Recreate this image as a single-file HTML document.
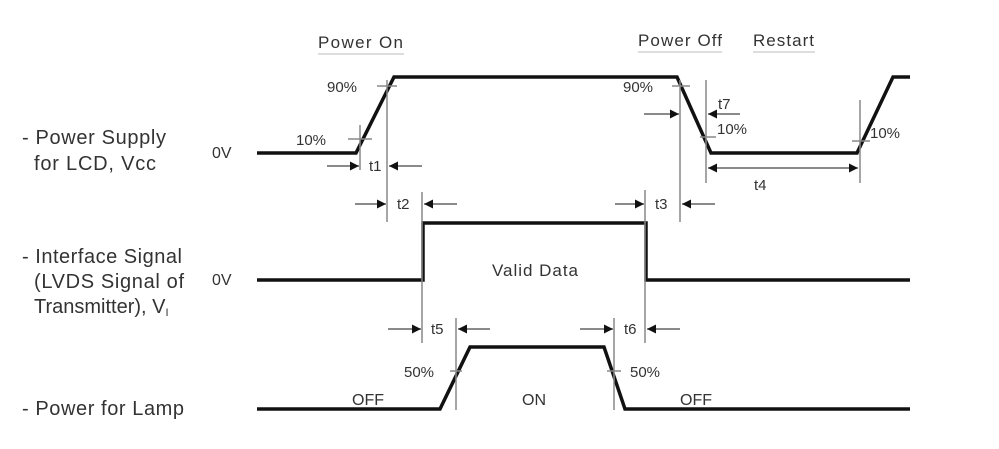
<!DOCTYPE html>
<html><head><meta charset="utf-8"><style>
html,body{margin:0;padding:0;background:#fff;width:999px;height:449px;overflow:hidden}
svg text{font-family:"Liberation Sans",Arial,sans-serif;fill:#333}
</style></head><body>
<svg width="999" height="449" viewBox="0 0 999 449" xmlns="http://www.w3.org/2000/svg">
<defs>
<marker id="a" viewBox="0 0 10 10" refX="10" refY="5" markerWidth="13" markerHeight="9" orient="auto" markerUnits="userSpaceOnUse"><path d="M0,0 L10,5 L0,10 z" fill="#111"/></marker>
</defs>
<g font-size="17">
<text x="318" y="48" textLength="85">Power On</text>
<line x1="318" y1="54" x2="404" y2="54" stroke="#bbb" stroke-width="1"/>
<text x="638" y="46" textLength="84">Power Off</text>
<line x1="638" y1="52" x2="722" y2="52" stroke="#bbb" stroke-width="1"/>
<text x="753" y="46" textLength="61">Restart</text>
<line x1="753" y1="52" x2="815" y2="52" stroke="#bbb" stroke-width="1"/>
</g>
<g font-size="20" fill="#222">
<text x="22" y="144" textLength="144">- Power Supply</text>
<text x="34" y="170" textLength="122">for LCD, Vcc</text>
<text x="22" y="263" textLength="160">- Interface Signal</text>
<text x="34" y="288" textLength="150">(LVDS Signal of</text>
<text x="34" y="313">Transmitter), V<tspan font-size="11" dy="3">I</tspan></text>
<text x="22" y="415" textLength="162">- Power for Lamp</text>
<text x="212" y="158" font-size="16">0V</text>
<text x="212" y="285" font-size="16">0V</text>
</g>
<g fill="none" stroke="#111" stroke-width="3.5">
<polyline points="257,153 356,153 394,77 677,77 711,153 857,153 893,77 910,77"/>
<polyline points="257,280 423,280 423,223 646,223 646,280 910,280"/>
<polyline points="257,409 440,409 470,347 604,347 625,409 910,409"/>
</g>
<g stroke="#888" stroke-width="1.5">
<line x1="360" y1="125" x2="360" y2="170"/>
<line x1="348" y1="139" x2="372" y2="139"/>
<line x1="387" y1="80" x2="387" y2="222"/>
<line x1="377" y1="86" x2="397" y2="86"/>
<line x1="422" y1="192" x2="422" y2="343"/>
<line x1="680" y1="80" x2="680" y2="222"/>
<line x1="672" y1="86" x2="690" y2="86"/>
<line x1="706" y1="80" x2="706" y2="183"/>
<line x1="700" y1="137" x2="716" y2="137"/>
<line x1="860" y1="100" x2="860" y2="183"/>
<line x1="852" y1="141" x2="870" y2="141"/>
<line x1="645" y1="190" x2="645" y2="343"/>
<line x1="456" y1="318" x2="456" y2="410"/>
<line x1="450" y1="371" x2="462" y2="371"/>
<line x1="614" y1="318" x2="614" y2="410"/>
<line x1="607" y1="371" x2="621" y2="371"/>
</g>
<g stroke="#444" stroke-width="1.3" marker-end="url(#a)">
<line x1="327" y1="166" x2="359" y2="166"/>
<line x1="422" y1="166" x2="389" y2="166"/>
<line x1="355" y1="204" x2="386" y2="204"/>
<line x1="457" y1="204" x2="424" y2="204"/>
<line x1="615" y1="204" x2="644" y2="204"/>
<line x1="715" y1="204" x2="682" y2="204"/>
<line x1="644" y1="114" x2="679" y2="114"/>
<line x1="740" y1="114" x2="708" y2="114"/>
<line x1="780" y1="168" x2="708" y2="168"/>
<line x1="780" y1="168" x2="858" y2="168"/>
<line x1="388" y1="329" x2="421" y2="329"/>
<line x1="490" y1="329" x2="458" y2="329"/>
<line x1="580" y1="329" x2="613" y2="329"/>
<line x1="680" y1="329" x2="647" y2="329"/>
</g>
<g font-size="15">
<text x="296" y="145">10%</text>
<text x="327" y="92">90%</text>
<text x="369" y="171">t1</text>
<text x="397" y="209">t2</text>
<text x="623" y="92">90%</text>
<text x="718" y="109">t7</text>
<text x="717" y="134">10%</text>
<text x="870" y="138">10%</text>
<text x="754" y="190">t4</text>
<text x="655" y="209">t3</text>
<text x="492" y="276" font-size="17" textLength="86">Valid Data</text>
<text x="431" y="334">t5</text>
<text x="624" y="334">t6</text>
<text x="404" y="377">50%</text>
<text x="630" y="377">50%</text>
<text x="352" y="405" font-size="16">OFF</text>
<text x="522" y="405" font-size="16">ON</text>
<text x="680" y="405" font-size="16">OFF</text>
</g>
</svg>
</body></html>
